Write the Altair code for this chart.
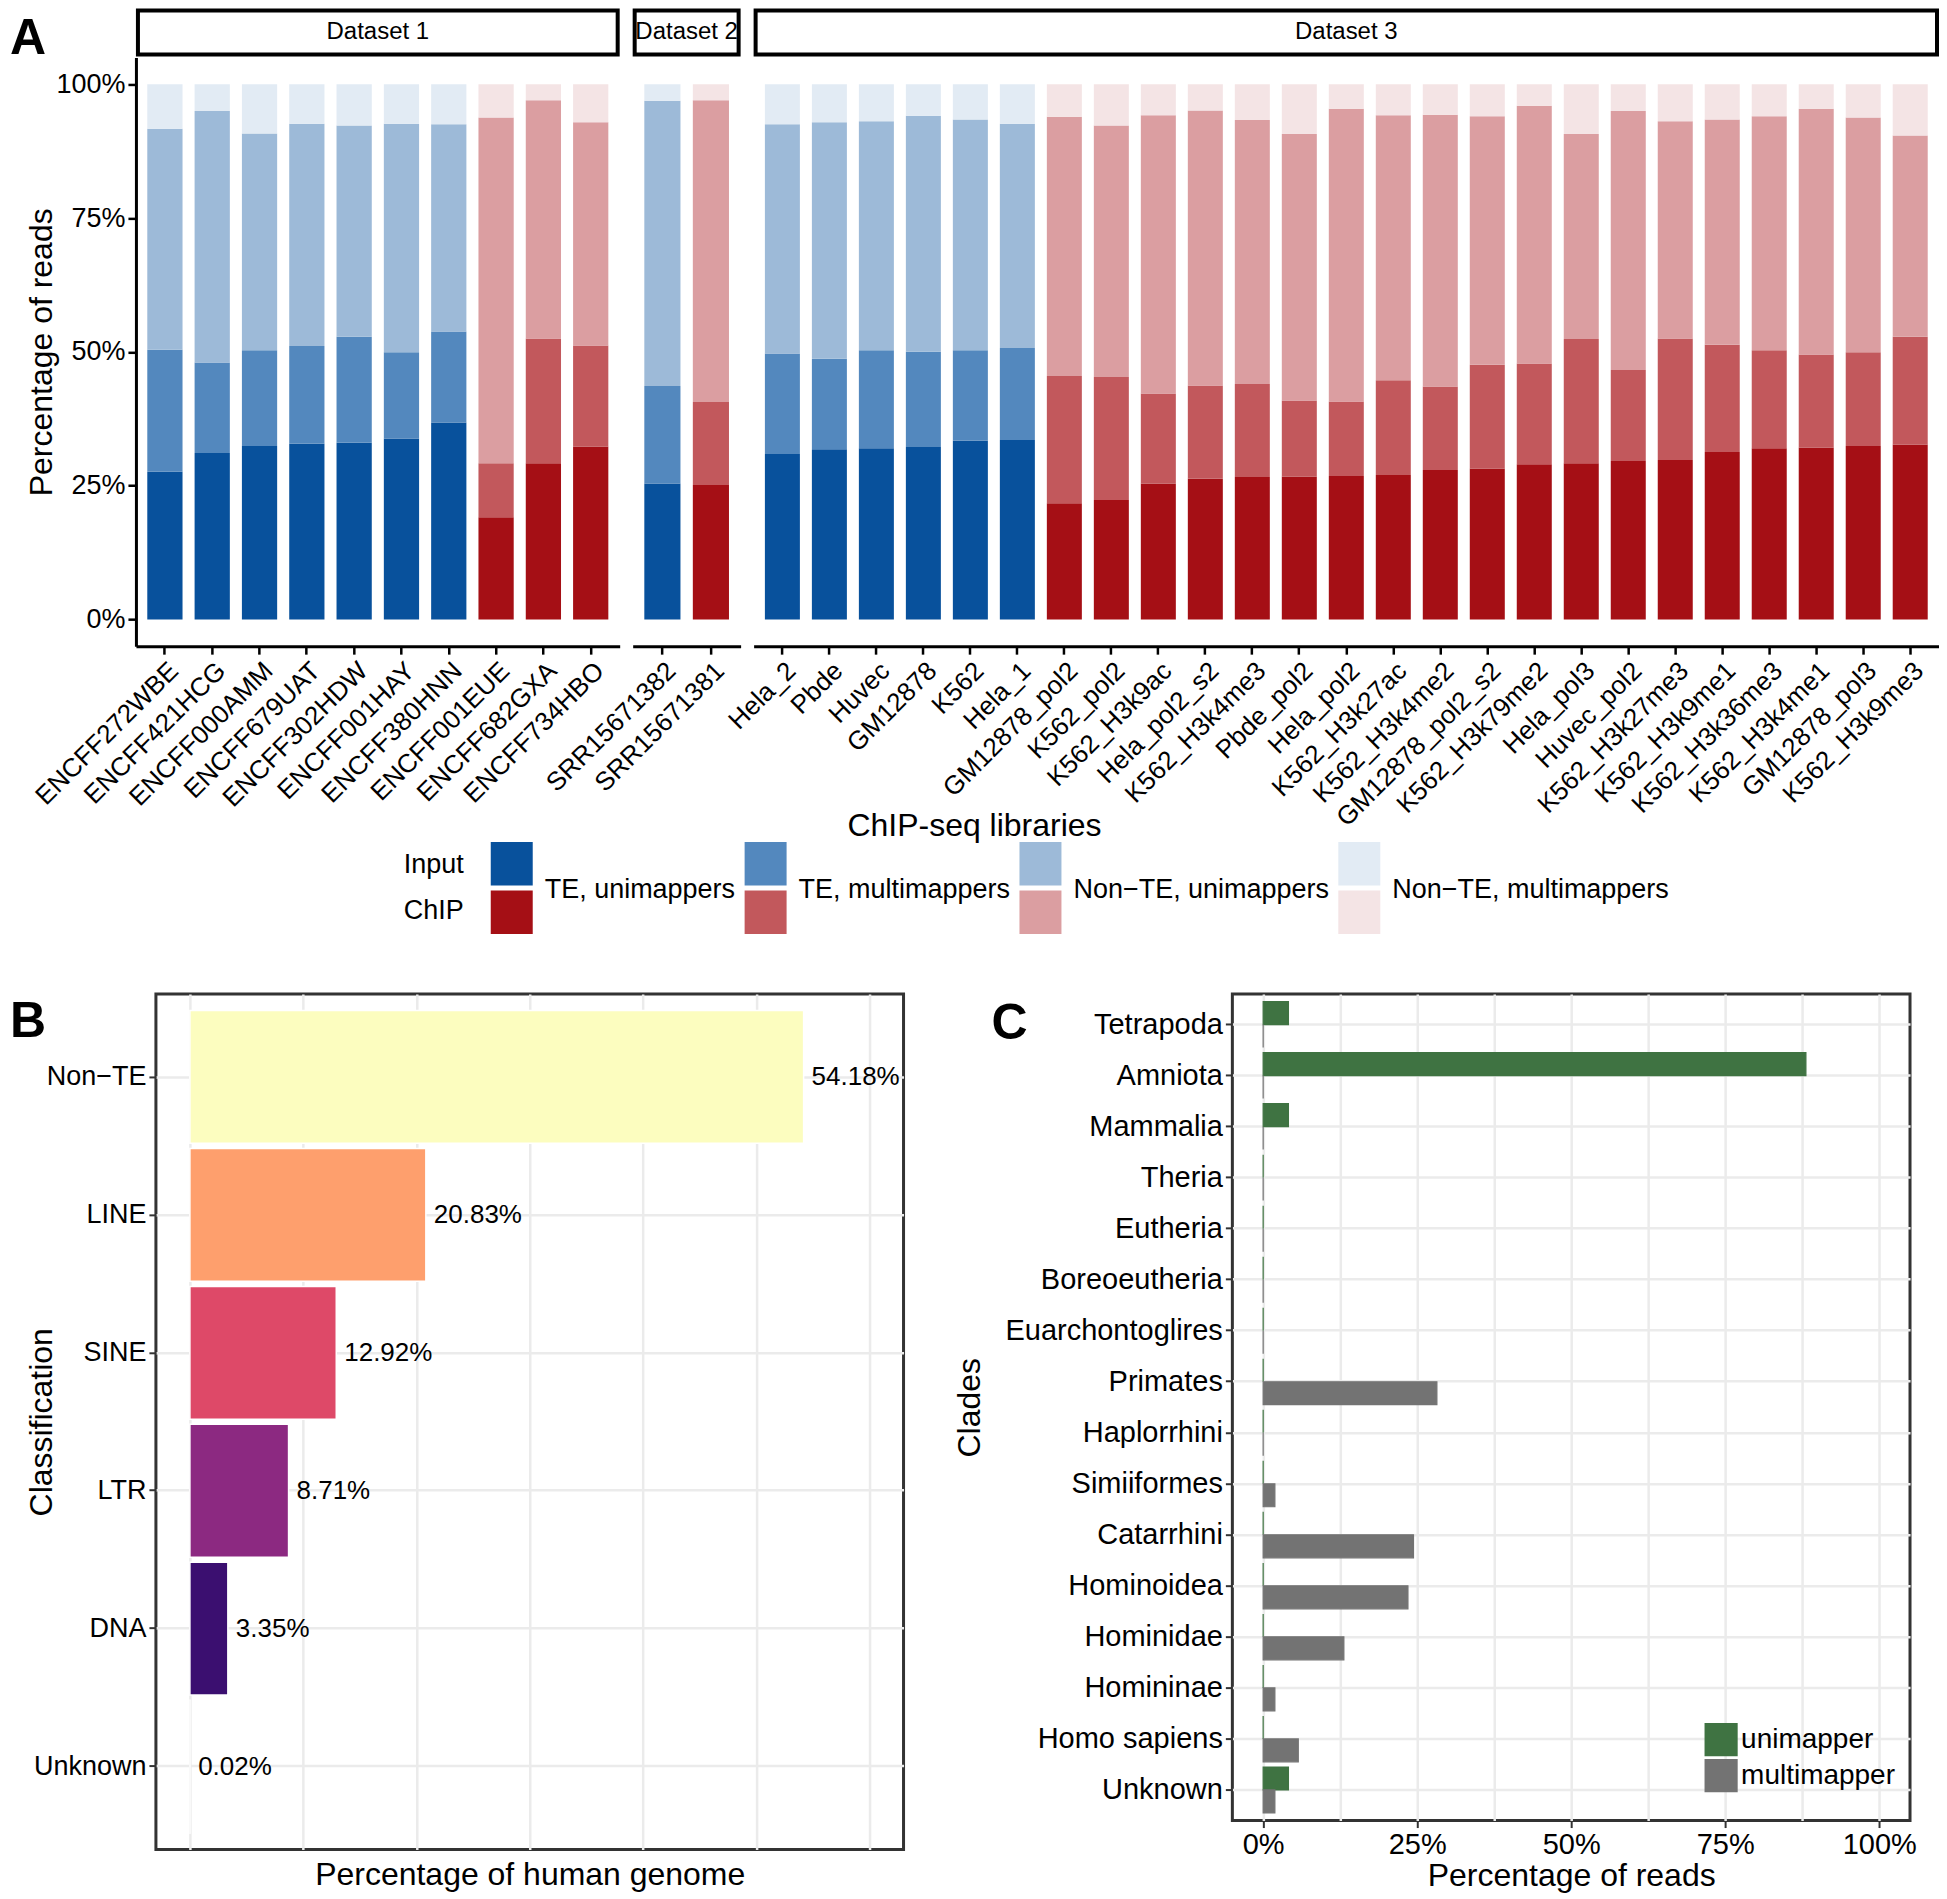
import altair as alt
import pandas as pd

FONT = "Liberation Sans"

# ---------------- Panel A data ----------------
categories = ["TE, unimappers", "TE, multimappers", "Non\u2212TE, unimappers", "Non\u2212TE, multimappers"]
groups = ["Input", "ChIP"]
input_colors = ["#08519C", "#5388BE", "#9DBAD8", "#E2EBF4"]
chip_colors = ["#A50F15", "#C2585C", "#DB9EA1", "#F4E4E5"]

ds1_libs = ["ENCFF272WBE", "ENCFF421HCG", "ENCFF000AMM", "ENCFF679UAT", "ENCFF302HDW",
            "ENCFF001HAY", "ENCFF380HNN", "ENCFF001EUE", "ENCFF682GXA", "ENCFF734HBO"]
ds1_group = ["Input", "Input", "Input", "Input", "Input", "Input", "Input", "ChIP", "ChIP", "ChIP"]
ds1_te_uni = [27.6, 31.1, 32.4, 32.8, 33.0, 33.8, 36.8, 19.1, 29.2, 32.3]
ds1_te_multi = [22.8, 16.9, 17.9, 18.3, 19.8, 16.1, 17.0, 10.1, 23.3, 18.9]
ds1_nonte_uni = [41.3, 47.0, 40.5, 41.5, 39.5, 42.7, 38.7, 64.6, 44.5, 41.7]
ds1_nonte_multi = [8.3, 5.0, 9.2, 7.4, 7.7, 7.4, 7.5, 6.2, 3.0, 7.1]

ds2_libs = ["SRR15671382", "SRR15671381"]
ds2_group = ["Input", "ChIP"]
ds2_te_uni = [25.4, 25.1]
ds2_te_multi = [18.2, 15.5]
ds2_nonte_uni = [53.3, 56.4]
ds2_nonte_multi = [3.1, 3.0]

ds3_libs = ["Hela_2", "Pbde", "Huvec", "GM12878", "K562", "Hela_1", "GM12878_pol2", "K562_pol2",
            "K562_H3k9ac", "Hela_pol2_s2", "K562_H3k4me3", "Pbde_pol2", "Hela_pol2", "K562_H3k27ac",
            "K562_H3k4me2", "GM12878_pol2_s2", "K562_H3k79me2", "Hela_pol3", "Huvec_pol2",
            "K562_H3k27me3", "K562_H3k9me1", "K562_H3k36me3", "K562_H3k4me1", "GM12878_pol3",
            "K562_H3k9me3"]
ds3_group = ["Input"] * 6 + ["ChIP"] * 19
ds3_te_uni = [30.9, 31.8, 32.0, 32.2, 33.4, 33.5, 21.7, 22.3, 25.4, 26.3, 26.6, 26.7, 26.8, 27.0,
              27.9, 28.2, 29.0, 29.2, 29.6, 29.8, 31.3, 32.0, 32.1, 32.4, 32.7]
ds3_te_multi = [18.8, 16.9, 18.3, 17.8, 16.9, 17.2, 23.8, 23.0, 16.8, 17.4, 17.4, 14.2, 13.9, 17.7,
                15.6, 19.4, 18.8, 23.2, 17.0, 22.7, 20.0, 18.3, 17.4, 17.5, 20.1]
ds3_nonte_uni = [42.8, 44.2, 42.8, 44.1, 43.1, 41.9, 48.4, 47.0, 52.0, 51.4, 49.3, 49.8, 54.7, 49.5,
                 50.8, 46.4, 48.2, 38.3, 48.4, 40.6, 42.1, 43.7, 45.9, 43.9, 37.6]
ds3_nonte_multi = [7.5, 7.1, 6.9, 5.9, 6.6, 7.4, 6.1, 7.7, 5.8, 4.9, 6.7, 9.3, 4.6, 5.8,
                   5.7, 6.0, 4.0, 9.3, 5.0, 6.9, 6.6, 6.0, 4.6, 6.2, 9.6]

# ---------------- Panel B data ----------------
classes = ["Non\u2212TE", "LINE", "SINE", "LTR", "DNA", "Unknown"]
genome_pct = [54.18, 20.83, 12.92, 8.71, 3.35, 0.02]
magma_colors = ["#FCFDBF", "#FE9F6D", "#DE4968", "#8C2981", "#3B0F70", "#000004"]

# ---------------- Panel C data ----------------
clades = ["Tetrapoda", "Amniota", "Mammalia", "Theria", "Eutheria", "Boreoeutheria",
          "Euarchontoglires", "Primates", "Haplorrhini", "Simiiformes", "Catarrhini",
          "Hominoidea", "Hominidae", "Homininae", "Homo sapiens", "Unknown"]
uni_pct = [4.1, 88.1, 4.1, 0, 0, 0, 0, 0, 0, 0, 0, 0, 0, 0, 0, 4.1]
multi_pct = [0, 0, 0, 0, 0, 0, 0, 28.2, 0, 1.9, 24.4, 23.5, 13.1, 1.9, 5.7, 1.9]
map_types = ["unimapper", "multimapper"]
map_colors = ["#3F7342", "#737373"]

# ---------------- build tables ----------------
keys = [g + "|" + c for g in groups for c in categories]
key_colors = input_colors + chip_colors


def long_table(libs, grp, a, b, c, d):
    rows = []
    for i, lib in enumerate(libs):
        for k, (cat, v) in enumerate(zip(categories, [a[i], b[i], c[i], d[i]])):
            rows.append({"lib": lib, "grp": grp[i], "cat": cat, "ord": k,
                         "value": v, "key": grp[i] + "|" + cat})
    return pd.DataFrame(rows)


df1 = long_table(ds1_libs, ds1_group, ds1_te_uni, ds1_te_multi, ds1_nonte_uni, ds1_nonte_multi)
df2 = long_table(ds2_libs, ds2_group, ds2_te_uni, ds2_te_multi, ds2_nonte_uni, ds2_nonte_multi)
df3 = long_table(ds3_libs, ds3_group, ds3_te_uni, ds3_te_multi, ds3_nonte_uni, ds3_nonte_multi)

H_A = 589
PI, PO = 0.255, 0.24
TITLE_FS = 32


def facet(name, df, libs, W, first):
    xaxis = alt.Axis(title=None, labelAngle=-45, labelAlign="right", labelBaseline="top",
                     labelFontSize=26, labelPadding=3, labelLimit=0, tickSize=8, tickWidth=2.5,
                     tickColor="black", domainWidth=3, domainColor="black", labelColor="black",
                     grid=False, bandPosition=0.5)
    if first:
        yaxis = alt.Axis(values=[0, 25, 50, 75, 100], labelExpr="datum.value + '%'",
                         title="Percentage of reads", titleFontSize=TITLE_FS, labelFontSize=27,
                         tickSize=8, tickWidth=2.5, tickColor="black", domainWidth=3,
                         domainColor="black", grid=False, labelPadding=3,
                         titleX=-77, titleY=H_A / 2, titleBaseline="bottom")
    else:
        yaxis = None
    bars = alt.Chart(df).mark_bar().encode(
        x=alt.X("lib:N", sort=libs, scale=alt.Scale(paddingInner=PI, paddingOuter=PO), axis=xaxis),
        y=alt.Y("value:Q", stack="zero", scale=alt.Scale(domain=[-5, 105], nice=False, zero=False),
                axis=yaxis),
        color=alt.Color("key:N", scale=alt.Scale(domain=keys, range=key_colors), legend=None),
        order=alt.Order("ord:Q", sort="ascending"),
    )
    sdf = pd.DataFrame({"label": [name]})
    strip = alt.Chart(sdf).mark_rect(fill="white", stroke="black", strokeWidth=4).encode(
        x=alt.value(2), x2=alt.value(W - 2), y=alt.value(-47), y2=alt.value(-3))
    stext = alt.Chart(sdf).mark_text(fontSize=24, baseline="middle", font=FONT).encode(
        x=alt.value(W / 2), y=alt.value(-25), text="label:N")
    layers = [bars, strip, stext]
    if first:
        layers.append(alt.Chart(pd.DataFrame({"t": ["A"]})).mark_text(
            fontSize=50, fontWeight="bold", align="left", baseline="alphabetic", font=FONT).encode(
            x=alt.value(-126), y=alt.value(-3), text="t:N"))
    return alt.layer(*layers).properties(width=W, height=H_A)


A_row = alt.hconcat(
    facet("Dataset 1", df1, ds1_libs, 484, True),
    facet("Dataset 2", df2, ds2_libs, 108, False),
    facet("Dataset 3", df3, ds3_libs, 1186, False),
    spacing=13, bounds="flush",
).properties(title=alt.TitleParams("ChIP-seq libraries", orient="bottom", anchor="middle",
                                   fontSize=TITLE_FS, fontWeight="normal", font=FONT, offset=-20,
                                   color="black"))

# ---------------- custom legend for A ----------------
LEG_H = 92
W0 = 346
leg_scale = alt.Scale(paddingInner=0.1, paddingOuter=0)
leg0 = alt.Chart(pd.DataFrame({"grp": groups})).mark_text(
    align="right", baseline="middle", fontSize=27, font=FONT).encode(
    y=alt.Y("grp:N", sort=groups, axis=None, scale=leg_scale),
    x=alt.value(W0 - 18), text="grp:N").properties(width=W0, height=LEG_H)

leg_items = [leg0]
for i, cat in enumerate(categories):
    ldf = pd.DataFrame({"grp": groups, "col": [input_colors[i], chip_colors[i]]})
    boxes = alt.Chart(ldf).mark_rect().encode(
        y=alt.Y("grp:N", sort=groups, axis=None, scale=leg_scale),
        x=alt.value(0), x2=alt.value(42),
        color=alt.Color("col:N", scale=None))
    lab = alt.Chart(pd.DataFrame({"label": [cat]})).mark_text(
        align="left", baseline="middle", fontSize=27, font=FONT).encode(
        x=alt.value(54), y=alt.value(LEG_H / 2 + 2), text="label:N")
    leg_items.append(alt.layer(boxes, lab).properties(width=42, height=LEG_H))

legend_row = alt.hconcat(*leg_items, spacing=9).resolve_scale(color="independent")

# ---------------- Panel B ----------------
dfB = pd.DataFrame({"cls": classes, "pct": genome_pct,
                    "label": [f"{v:.2f}%" for v in genome_pct]})
W_B, H_B = 748, 856
grid_col = "#EBEBEB"
yB = alt.Y("cls:N", sort=classes, scale=alt.Scale(paddingInner=0.037, paddingOuter=0.12),
           axis=alt.Axis(title="Classification", titleFontSize=TITLE_FS, labelFontSize=27,
                         bandPosition=0.5, grid=True, gridColor=grid_col, gridWidth=2.5,
                         tickSize=7, tickWidth=2, tickColor="#333333", domain=False,
                         labelPadding=3, labelLimit=0, titleX=-97, titleY=H_B / 2,
                         titleBaseline="bottom"))
xB = alt.X("pct:Q", scale=alt.Scale(domain=[-3, 63], nice=False, zero=False),
           axis=alt.Axis(values=[0, 10, 20, 30, 40, 50, 60], labels=False, ticks=False,
                         domain=False, grid=True, gridColor=grid_col, gridWidth=2.5,
                         title="Percentage of human genome", titleFontSize=TITLE_FS,
                         titlePadding=10))
barsB = alt.Chart(dfB).mark_bar(stroke="white", strokeWidth=1.5).encode(
    y=yB, x=xB,
    color=alt.Color("cls:N", scale=alt.Scale(domain=classes, range=magma_colors), legend=None))
textB = alt.Chart(dfB).mark_text(align="left", baseline="middle", dx=8, fontSize=26,
                                 font=FONT).encode(y=yB, x=xB, text="label:N")
letterB = alt.Chart(pd.DataFrame({"t": ["B"]})).mark_text(
    fontSize=50, fontWeight="bold", align="left", baseline="alphabetic", font=FONT).encode(
    x=alt.value(-146), y=alt.value(43), text="t:N")
panelB = alt.layer(barsB, textB, letterB).properties(
    width=W_B, height=H_B, view=alt.ViewBackground(stroke="#333333", strokeWidth=3))

# ---------------- Panel C ----------------
rows = []
for i, cl in enumerate(clades):
    rows.append({"clade": cl, "type": "unimapper", "pct": uni_pct[i]})
    rows.append({"clade": cl, "type": "multimapper", "pct": multi_pct[i]})
dfC = pd.DataFrame(rows)
W_C, H_C = 678, 827
barsC = alt.Chart(dfC).mark_bar(strokeWidth=1.2).encode(
    y=alt.Y("clade:N", sort=clades, scale=alt.Scale(paddingInner=0.1, paddingOuter=0.15),
            axis=alt.Axis(title="Clades", titleFontSize=TITLE_FS, labelFontSize=29,
                          bandPosition=0.5, grid=True, gridColor=grid_col, gridWidth=2.5,
                          tickSize=7, tickWidth=2, tickColor="#333333", domain=False,
                          labelPadding=3, labelLimit=0,
                          titleX=-246, titleY=H_C / 2, titleBaseline="bottom")),
    yOffset=alt.YOffset("type:N", sort=map_types,
                        scale=alt.Scale(paddingInner=0, paddingOuter=0)),
    x=alt.X("pct:Q", scale=alt.Scale(domain=[-5, 105], nice=False, zero=False),
            axis=alt.Axis(values=[0, 12.5, 25, 37.5, 50, 62.5, 75, 87.5, 100],
                          labelExpr="datum.value % 25 === 0 ? datum.value + '%' : ''",
                          labelOverlap=False,
                          tickOpacity={"condition": {"test": "datum.value % 25 === 0", "value": 1},
                                       "value": 0},
                          tickSize=7, tickWidth=2, tickColor="#333333", domain=False,
                          grid=True, gridColor=grid_col, gridWidth=2.5, labelFontSize=29,
                          labelPadding=3, title="Percentage of reads", titleFontSize=TITLE_FS,
                          titlePadding=1)),
    color=alt.Color("type:N", scale=alt.Scale(domain=map_types, range=map_colors),
                    legend=alt.Legend(title=None, orient="none", legendX=472, legendY=729,
                                      symbolType="square", symbolSize=1100, labelFontSize=28,
                                      labelFont=FONT, symbolStrokeWidth=0, rowPadding=2,
                                      labelOffset=3, symbolOpacity=1)),
    stroke=alt.Stroke("type:N", scale=alt.Scale(domain=map_types, range=map_colors), legend=None),
)
letterC = alt.Chart(pd.DataFrame({"t": ["C"]})).mark_text(
    fontSize=50, fontWeight="bold", align="left", baseline="alphabetic", font=FONT).encode(
    x=alt.value(-241), y=alt.value(45), text="t:N")
panelC = alt.layer(barsC, letterC).properties(
    width=W_C, height=H_C, view=alt.ViewBackground(stroke="#333333", strokeWidth=3))

BC = alt.hconcat(panelB, panelC, spacing=329, bounds="flush").resolve_scale(
    color="independent", stroke="independent")

# invisible spacer so that panel B sits 20px further right than panel A
spacer = alt.Chart(pd.DataFrame({"s": [0]})).mark_point(opacity=0).encode(
    x=alt.value(0), y=alt.value(0)).properties(width=1, height=1)
bottom_row = alt.hconcat(spacer, BC, spacing=19, bounds="flush").resolve_scale(
    color="independent", stroke="independent")

top = alt.concat(A_row, legend_row, columns=1, align="none", spacing=0).resolve_scale(
    color="independent")
chart = alt.concat(top, bottom_row, columns=1, align="none", spacing=57).resolve_scale(
    color="independent", stroke="independent"
).properties(
    padding={"left": 0, "top": 0, "right": 0, "bottom": 0}
).configure(font=FONT).configure_view(stroke=None).configure_axis(
    labelFont=FONT, titleFont=FONT, titleFontWeight="normal", labelColor="black",
    titleColor="black"
).configure_legend(labelFont=FONT, labelColor="black")

chart.save("out.html", embed_options={"renderer": "svg", "actions": False})
